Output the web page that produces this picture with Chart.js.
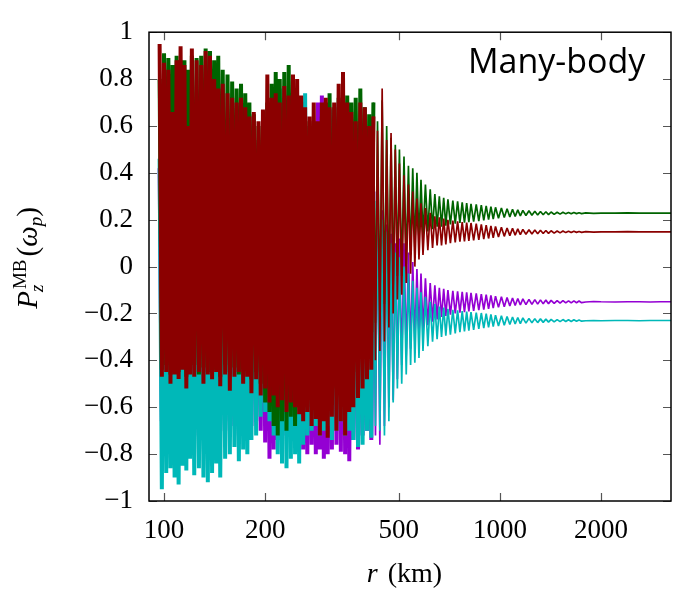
<!DOCTYPE html>
<html>
<head>
<meta charset="utf-8">
<script src="https://cdn.jsdelivr.net/npm/chart.js@4.4.1/dist/chart.umd.min.js"></script>
<style>
  html, body { margin: 0; padding: 0; background: #fff; }
  #wrap { width: 673px; height: 591px; }
</style>
</head>
<body>
<div id="wrap"><canvas id="chart" width="673" height="591"></canvas></div>
<script>
// sample radii (km), shared by all four curves
const radiusKm = [
  97, 98.5, 100, 101.5, 103, 104.5, 106, 107.5, 109, 110.5,
  112, 113.5, 115, 116.5, 118, 119.5, 121, 123, 125, 127,
  129, 131, 133, 135, 137, 139, 141, 143, 145, 147,
  149.5, 152, 154.5, 157, 159.5, 162, 164.5, 167, 169.5, 172,
  174.5, 177, 179.5, 182, 185, 188, 191, 194, 197, 200,
  203, 206, 209, 212, 215, 218, 221, 224.5, 228, 231.5,
  235, 238.5, 242, 245.5, 249, 252.5, 256, 259.5, 263, 267,
  271, 275, 279, 283, 287, 291, 295, 299, 303, 307,
  311, 316, 321, 326, 331, 336, 341, 346, 351, 356,
  361, 366, 372, 378, 384, 390, 396, 402, 408, 414,
  420, 426, 432, 439, 446, 453, 460, 467, 474, 481,
  488, 495, 502, 510, 518, 526, 534, 542, 550, 558,
  566, 574, 582, 590, 600, 610, 620, 630, 640, 650,
  660, 670, 680, 690, 700, 712, 724, 736, 748, 760,
  772, 784, 796, 808, 820, 835, 850, 865, 880, 895,
  910, 925, 940, 955, 970, 990, 1010, 1030, 1050, 1070,
  1090, 1110, 1130, 1150, 1170, 1195, 1220, 1245, 1270, 1295,
  1320, 1345, 1370, 1395, 1420, 1450, 1480, 1510, 1540, 1570,
  1600, 1630, 1660, 1690, 1720, 1750, 1800, 1900, 2000, 2200,
  2400, 2600, 2800, 3000, 3230
];

const redP = [
  0.95, -0.47, 0.87, -0.45, 0.84, -0.5, 0.66, -0.46, 0.88, -0.48,
  0.94, -0.44, 0.86, -0.52, 0.6, -0.46, 0.93, -0.47, 0.88, -0.45,
  0.86, -0.5, 0.92, -0.46, 0.9, -0.48, 0.8, -0.45, 0.76, -0.51,
  0.78, -0.46, 0.74, -0.53, 0.72, -0.47, 0.7, -0.45, 0.72, -0.5,
  0.68, -0.47, 0.64, -0.54, 0.66, -0.48, 0.62, -0.55, 0.67, -0.52,
  0.82, -0.58, 0.72, -0.55, 0.74, -0.6, 0.7, -0.57, 0.77, -0.62,
  0.73, -0.58, 0.82, -0.6, 0.8, -0.63, 0.73, -0.66, 0.68, -0.62,
  0.64, -0.68, 0.7, -0.65, 0.62, -0.72, 0.7, -0.66, 0.72, -0.73,
  0.68, -0.64, 0.7, -0.7, 0.78, -0.66, 0.83, -0.72, 0.7, -0.62,
  0.66, -0.6, 0.62, -0.56, 0.7, -0.52, 0.68, -0.48, 0.6, -0.44,
  0.64, -0.4, 0.58, -0.36, 0.76, -0.32, 0.54, -0.26, 0.57, -0.2,
  0.5, -0.14, 0.44, -0.12, 0.39, -0.07, 0.35, -0.03, 0.32, 0.0,
  0.29, 0.03, 0.27, 0.05, 0.25, 0.07, 0.23, 0.08, 0.215, 0.09,
  0.21, 0.09, 0.205, 0.095, 0.2, 0.1, 0.196, 0.103, 0.193, 0.106,
  0.19, 0.108, 0.188, 0.11, 0.186, 0.112, 0.183, 0.114, 0.18, 0.117,
  0.177, 0.12, 0.174, 0.123, 0.171, 0.126, 0.168, 0.129, 0.165, 0.132,
  0.163, 0.134, 0.161, 0.136, 0.159, 0.138, 0.157, 0.139, 0.156, 0.14,
  0.155, 0.141, 0.154, 0.142, 0.153, 0.143, 0.152, 0.144, 0.152, 0.145,
  0.151, 0.145, 0.151, 0.146, 0.15, 0.146, 0.149, 0.147, 0.148, 0.148,
  0.149, 0.148, 0.148, 0.148, 0.148
];

const greenP = [
  0.8, -0.44, 0.91, -0.42, 0.89, -0.46, 0.86, -0.43, 0.9, -0.45,
  0.88, -0.41, 0.88, -0.47, 0.84, -0.44, 0.9, -0.42, 0.89, -0.46,
  0.9, -0.43, 0.93, -0.45, 0.92, -0.41, 0.88, -0.44, 0.9, -0.47,
  0.84, -0.42, 0.82, -0.45, 0.79, -0.43, 0.76, -0.46, 0.78, -0.44,
  0.74, -0.42, 0.7, -0.48, 0.65, -0.45, 0.6, -0.5, 0.62, -0.58,
  0.7, -0.62, 0.78, -0.68, 0.83, -0.72, 0.8, -0.66, 0.83, -0.7,
  0.86, -0.64, 0.8, -0.68, 0.7, -0.6, 0.64, -0.56, 0.6, -0.6,
  0.62, -0.55, 0.58, -0.58, 0.6, -0.6, 0.64, -0.56, 0.7, -0.58,
  0.74, -0.55, 0.68, -0.52, 0.72, -0.56, 0.75, -0.5, 0.73, -0.48,
  0.7, -0.45, 0.72, -0.4, 0.76, -0.36, 0.68, -0.32, 0.65, -0.28,
  0.7, -0.24, 0.62, -0.2, 0.71, -0.16, 0.6, -0.12, 0.55, -0.08,
  0.52, -0.04, 0.5, -0.04, 0.47, 0.01, 0.43, 0.05, 0.42, 0.08,
  0.4, 0.11, 0.37, 0.13, 0.35, 0.15, 0.33, 0.16, 0.31, 0.17,
  0.3, 0.17, 0.293, 0.175, 0.287, 0.18, 0.282, 0.183, 0.278, 0.186,
  0.274, 0.188, 0.271, 0.19, 0.268, 0.192, 0.265, 0.194, 0.262, 0.197,
  0.259, 0.2, 0.256, 0.203, 0.253, 0.206, 0.25, 0.209, 0.247, 0.212,
  0.244, 0.214, 0.242, 0.216, 0.24, 0.218, 0.238, 0.219, 0.236, 0.22,
  0.235, 0.221, 0.234, 0.222, 0.233, 0.223, 0.232, 0.224, 0.232, 0.225,
  0.231, 0.225, 0.231, 0.226, 0.23, 0.226, 0.229, 0.227, 0.228, 0.228,
  0.229, 0.228, 0.228, 0.228, 0.228
];

const cyanP = [
  0.46, -0.95, 0.4, -0.88, 0.42, -0.86, 0.38, -0.9, 0.44, -0.93,
  0.4, -0.85, 0.36, -0.87, 0.42, -0.82, 0.4, -0.89, 0.45, -0.86,
  0.38, -0.9, 0.42, -0.92, 0.4, -0.88, 0.44, -0.84, 0.38, -0.9,
  0.42, -0.82, 0.4, -0.8, 0.45, -0.77, 0.5, -0.83, 0.48, -0.78,
  0.52, -0.8, 0.6, -0.74, 0.58, -0.72, 0.54, -0.64, 0.5, -0.62,
  0.55, -0.66, 0.62, -0.72, 0.7, -0.8, 0.76, -0.84, 0.72, -0.86,
  0.66, -0.82, 0.6, -0.8, 0.65, -0.84, 0.7, -0.76, 0.74, -0.72,
  0.6, -0.7, 0.55, -0.68, 0.58, -0.72, 0.62, -0.7, 0.68, -0.68,
  0.6, -0.74, 0.62, -0.7, 0.55, -0.66, 0.5, -0.72, 0.48, -0.7,
  0.45, -0.74, 0.42, -0.77, 0.4, -0.76, 0.36, -0.7, 0.32, -0.73,
  0.28, -0.68, 0.24, -0.7, 0.2, -0.72, 0.15, -0.66, 0.1, -0.58,
  0.06, -0.52, 0.04, -0.5, 0.0, -0.46, -0.03, -0.42, -0.06, -0.41,
  -0.09, -0.39, -0.11, -0.36, -0.13, -0.34, -0.15, -0.32, -0.16, -0.31,
  -0.17, -0.3, -0.175, -0.295, -0.18, -0.29, -0.184, -0.285, -0.187, -0.28,
  -0.19, -0.276, -0.192, -0.273, -0.194, -0.27, -0.196, -0.266, -0.198, -0.262,
  -0.201, -0.259, -0.204, -0.256, -0.207, -0.253, -0.21, -0.25, -0.213, -0.247,
  -0.215, -0.245, -0.217, -0.243, -0.219, -0.241, -0.221, -0.24, -0.222, -0.239,
  -0.223, -0.238, -0.224, -0.237, -0.225, -0.236, -0.226, -0.235, -0.226, -0.234,
  -0.227, -0.234, -0.227, -0.233, -0.228, -0.233, -0.231, -0.23, -0.231, -0.23,
  -0.23, -0.231, -0.23, -0.23, -0.23
];

const purpleP = [
  0.42, -0.66, 0.38, -0.7, 0.4, -0.64, 0.36, -0.72, 0.44, -0.68,
  0.4, -0.74, 0.38, -0.66, 0.42, -0.7, 0.36, -0.72, 0.4, -0.68,
  0.44, -0.7, 0.38, -0.74, 0.42, -0.68, 0.4, -0.72, 0.36, -0.7,
  0.42, -0.66, 0.4, -0.7, 0.44, -0.68, 0.38, -0.72, 0.46, -0.66,
  0.42, -0.7, 0.48, -0.68, 0.44, -0.66, 0.5, -0.7, 0.46, -0.75,
  0.5, -0.82, 0.48, -0.78, 0.52, -0.74, 0.5, -0.7, 0.54, -0.72,
  0.5, -0.68, 0.55, -0.7, 0.52, -0.72, 0.56, -0.78, 0.54, -0.8,
  0.58, -0.76, 0.6, -0.8, 0.7, -0.78, 0.73, -0.82, 0.66, -0.8,
  0.67, -0.78, 0.64, -0.76, 0.7, -0.79, 0.58, -0.8, 0.5, -0.83,
  0.45, -0.74, 0.43, -0.78, 0.54, -0.72, 0.42, -0.7, 0.38, -0.74,
  0.32, -0.72, 0.28, -0.76, 0.24, -0.68, 0.18, -0.6, 0.14, -0.57,
  0.1, -0.48, 0.12, -0.42, 0.1, -0.38, 0.06, -0.35, 0.02, -0.32,
  -0.01, -0.29, -0.03, -0.27, -0.05, -0.25, -0.07, -0.235, -0.08, -0.225,
  -0.09, -0.215, -0.095, -0.21, -0.1, -0.205, -0.103, -0.2, -0.106, -0.197,
  -0.108, -0.194, -0.11, -0.191, -0.112, -0.189, -0.114, -0.186, -0.117, -0.183,
  -0.12, -0.18, -0.123, -0.177, -0.126, -0.174, -0.129, -0.171, -0.132, -0.168,
  -0.134, -0.166, -0.136, -0.164, -0.138, -0.162, -0.14, -0.161, -0.141, -0.16,
  -0.142, -0.159, -0.143, -0.158, -0.144, -0.157, -0.145, -0.156, -0.145, -0.155,
  -0.146, -0.155, -0.146, -0.154, -0.147, -0.154, -0.151, -0.149, -0.15, -0.151,
  -0.15, -0.15, -0.151, -0.15, -0.15
];

const xTicks = [100, 200, 500, 1000, 2000];
const yTicks = [-1, -0.8, -0.6, -0.4, -0.2, 0, 0.2, 0.4, 0.6, 0.8, 1];

// samples up to this index lie in the unresolved, densely oscillating part
const denseEnd = 100;

const serif = '"Liberation Serif", "Times New Roman", serif';

function toPoints(ys, from, to) {
  const pts = [];
  for (let i = from; i <= to; i++) pts.push({ x: radiusKm[i], y: ys[i] });
  return pts;
}

function fmtY(v) {
  const n = Math.round(v * 10) / 10;
  if (n === 0) return '0';
  return (n < 0 ? '\u2212' : '') + Math.abs(n);
}

// frame, inward ticks, axis titles and the panel label
const decorations = {
  id: 'decorations',
  afterDraw(c) {
    const ctx = c.ctx;
    const a = c.chartArea;
    const xs = c.scales.x, ys = c.scales.y;
    ctx.save();

    ctx.strokeStyle = '#555';
    ctx.lineWidth = 1.2;
    ctx.beginPath();
    xTicks.forEach(v => {
      const px = Math.round(xs.getPixelForValue(v)) + 0.5;
      ctx.moveTo(px, a.bottom); ctx.lineTo(px, a.bottom - 8);
      ctx.moveTo(px, a.top); ctx.lineTo(px, a.top + 8);
    });
    yTicks.forEach(v => {
      const py = Math.round(ys.getPixelForValue(v)) + 0.5;
      ctx.moveTo(a.left, py); ctx.lineTo(a.left + 8, py);
      ctx.moveTo(a.right, py); ctx.lineTo(a.right - 8, py);
    });
    ctx.stroke();

    ctx.strokeStyle = '#000';
    ctx.lineWidth = 1.5;
    ctx.strokeRect(a.left, a.top, a.right - a.left, a.bottom - a.top);

    ctx.fillStyle = '#000';
    ctx.textBaseline = 'alphabetic';

    // x title: r (km)
    const fx = 28;
    ctx.font = `italic ${fx}px ${serif}`;
    const wR = ctx.measureText('r').width;
    ctx.font = `${fx}px ${serif}`;
    const wKm = ctx.measureText(' (km)').width;
    const x0 = 403 - (wR + wKm) / 2;
    ctx.font = `italic ${fx}px ${serif}`;
    ctx.fillText('r', x0, 582);
    ctx.font = `${fx}px ${serif}`;
    ctx.fillText(' (km)', x0 + wR + 3, 582);

    // y title: P_z^MB(omega_p), rotated
    const big = 29, small = 19;
    const fBigI = `italic ${big}px ${serif}`;
    const fBig = `${big}px ${serif}`;
    const fSmallI = `italic ${small}px ${serif}`;
    const fSmall = `${small}px ${serif}`;
    ctx.save();
    ctx.translate(37, 258);
    ctx.rotate(-Math.PI / 2);
    const w = (f, t) => { ctx.font = f; return ctx.measureText(t).width; };
    const wP = w(fBigI, 'P');
    const wz = w(fSmallI, 'z');
    const wMB = w(fSmall, 'MB');
    const wL = w(fBig, '(');
    const wO = w(fBigI, '\u03c9');
    const wp = w(fSmallI, 'p');
    const wRp = w(fBig, ')');
    const stack = Math.max(wz, wMB + 2);
    const total = wP + 1 + stack + 2 + wL + wO + wp + wRp;
    let u = -total / 2;
    ctx.font = fBigI; ctx.fillText('P', u, 0); u += wP + 1;
    ctx.font = fSmallI; ctx.fillText('z', u - 2, 6);
    ctx.font = fSmall; ctx.fillText('MB', u + 1, -11); u += stack + 2;
    ctx.font = fBig; ctx.fillText('(', u, 0); u += wL;
    ctx.font = fBigI; ctx.fillText('\u03c9', u, 0); u += wO;
    ctx.font = fSmallI; ctx.fillText('p', u, 5); u += wp;
    ctx.font = fBig; ctx.fillText(')', u, 0);
    ctx.restore();

    // panel label
    ctx.font = '34px "Open Sans", sans-serif';
    ctx.fillText('Many-body', 468, 73);

    ctx.restore();
  }
};

// the unresolved part is drawn with a heavy stroke so neighbouring swings merge
const lineSet = (label, ys, color, dense) => ({
  label,
  data: dense ? toPoints(ys, 0, denseEnd) : toPoints(ys, denseEnd, radiusKm.length - 1),
  borderColor: color,
  backgroundColor: color,
  borderWidth: dense ? 4 : 1.7,
  borderJoinStyle: 'bevel',
  pointRadius: 0,
  tension: 0,
  fill: false
});

// index 0 is painted last (on top)
new Chart(document.getElementById('chart'), {
  type: 'line',
  data: {
    datasets: [
      lineSet('red', redP, '#8b0000', true),
      lineSet('red', redP, '#8b0000', false),
      lineSet('green', greenP, '#006400', true),
      lineSet('green', greenP, '#006400', false),
      lineSet('cyan', cyanP, '#00b8b8', true),
      lineSet('cyan', cyanP, '#00b8b8', false),
      lineSet('purple', purpleP, '#9400d3', true),
      lineSet('purple', purpleP, '#9400d3', false)
    ]
  },
  options: {
    responsive: false,
    animation: false,
    devicePixelRatio: 1,
    layout: { padding: { left: 0, top: 16, right: 2, bottom: 0 } },
    plugins: { legend: { display: false }, tooltip: { enabled: false } },
    scales: {
      x: {
        type: 'logarithmic',
        min: 90.2,
        max: 3230,
        border: { display: false },
        grid: { display: false, drawTicks: false },
        afterBuildTicks: s => { s.ticks = xTicks.map(v => ({ value: v })); },
        afterFit: s => { s.height = 90; },
        ticks: {
          autoSkip: false,
          maxRotation: 0,
          padding: 14,
          color: '#000',
          font: { family: serif, size: 27 },
          callback: v => String(v)
        }
      },
      y: {
        type: 'linear',
        min: -1,
        max: 1,
        border: { display: false },
        grid: { display: false, drawTicks: false },
        afterBuildTicks: s => { s.ticks = yTicks.map(v => ({ value: v })); },
        afterFit: s => { s.width = 149; },
        ticks: {
          autoSkip: false,
          padding: 16,
          color: '#000',
          font: { family: serif, size: 27 },
          callback: v => fmtY(v)
        }
      }
    }
  },
  plugins: [decorations]
});
</script>
</body>
</html>
